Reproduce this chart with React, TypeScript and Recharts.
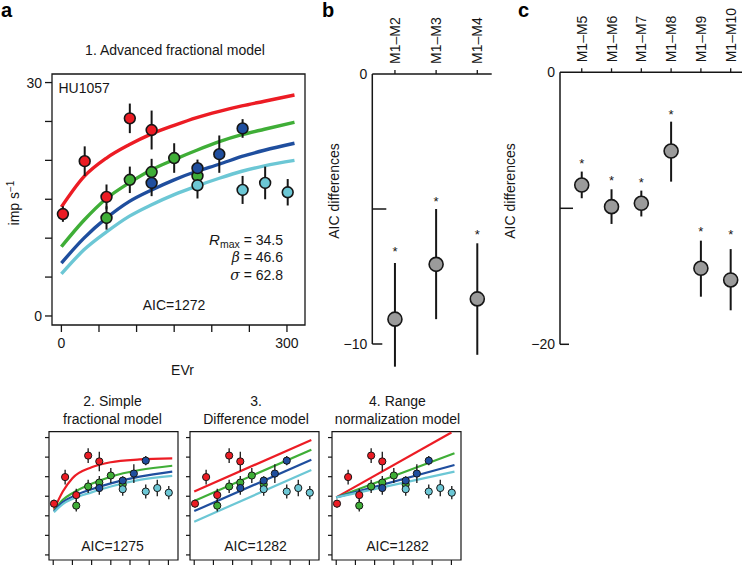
import React from 'react';
import {
  ComposedChart,
  Scatter,
  Line,
  XAxis,
  YAxis,
  ErrorBar,
  ReferenceLine,
  ReferenceArea,
} from 'recharts';

const FONT = '"Liberation Sans", Arial, Helvetica, sans-serif';
const W = 742;
const H = 565;
const INK = '#161616';

// ---------- colours ----------
const RED = '#ec1c24';
const GREEN = '#3fae37';
const BLUE = '#1f4e9e';
const CYAN = '#6cc7d5';
const GREY = '#9b9b9b';

// ---------- panel a: data (EVr, imp/s, s.e.m.) ----------
const redX = [2, 31, 60, 91, 120];
const redY = [13.1, 19.9, 15.3, 25.4, 23.9];
const redE = [1.0, 1.9, 1.6, 1.9, 2.5];

const greenX = [60, 91, 120, 150, 181];
const greenY = [12.6, 17.5, 18.5, 20.3, 18.0];
const greenE = [1.5, 1.7, 1.7, 1.9, 1.2];

const blueX = [120, 181, 210, 241];
const blueY = [17.1, 19.0, 20.8, 24.1];
const blueE = [1.7, 1.1, 2.4, 1.2];

const cyanX = [181, 241, 271, 301];
const cyanY = [16.8, 16.2, 17.1, 15.9];
const cyanE = [1.7, 1.8, 2.1, 1.7];

// model 1 (advanced fractional) fitted curves
const fit1X = [0, 30, 60, 90, 120, 150, 180, 210, 240, 270, 310];
const fit1Red = [14.0, 17.9, 20.3, 22.0, 23.4, 24.5, 25.5, 26.3, 27.0, 27.6, 28.4];
const fit1Green = [8.9, 12.3, 15.1, 17.1, 18.8, 20.1, 21.3, 22.4, 23.3, 24.0, 24.9];
const fit1Blue = [6.8, 10.0, 12.6, 14.7, 16.2, 17.5, 18.6, 19.5, 20.5, 21.3, 22.2];
const fit1Cyan = [5.4, 8.5, 10.8, 12.8, 14.3, 15.6, 16.7, 17.7, 18.6, 19.3, 20.0];

// model 2 (simple fractional)
const fit2X = [2, 25, 50, 100, 150, 225, 310];
const fit2Red = [11.6, 16.2, 19.6, 22.4, 23.7, 24.4, 24.7];
const fit2Green = [11.3, 14.1, 15.8, 18.2, 20.0, 21.7, 22.8];
const fit2Blue = [11.1, 13.5, 14.9, 16.8, 18.3, 20.0, 21.3];
const fit2Cyan = [10.9, 13.0, 14.3, 16.0, 17.5, 19.2, 20.2];

// model 3 (difference)
const fit3X = [0, 305];
const fit3Red = [16.2, 29.4];
const fit3Green = [13.8, 26.9];
const fit3Blue = [11.2, 24.3];
const fit3Cyan = [8.5, 21.7];

// model 4 (range normalization)
const fit4X = [0, 300];
const fit4Red = [14.7, 31.3];
const fit4X2 = [0, 308];
const fit4Green = [14.7, 26.0];
const fit4Blue = [14.7, 23.0];
const fit4Cyan = [14.7, 21.3];

const evTicks = [0, 50, 100, 150, 200, 250, 300];
const rateTicks = [0, 5, 10, 15, 20, 25, 30];

// ---------- panel b ----------
const bCats = ['M1–M2', 'M1–M3', 'M1–M4'];
const bMean = [-9.08, -7.05, -8.33];
const bLow = [-10.84, -9.08, -10.4];
const bHigh = [-7.0, -5.0, -6.27];
const bStar = [-6.46, -4.6, -5.84];
const bTicks = [0, -5, -10];

// ---------- panel c ----------
const cCats = ['M1–M5', 'M1–M6', 'M1–M7', 'M1–M8', 'M1–M9', 'M1–M10'];
const cMean = [-8.29, -9.88, -9.63, -5.79, -14.41, -15.27];
const cLow = [-9.26, -11.15, -10.6, -8.04, -16.5, -17.5];
const cHigh = [-7.3, -8.6, -8.7, -3.63, -12.38, -13.0];
const cStar = [-6.5, -7.72, -7.85, -2.9, -11.47, -11.72];
const cTicks = [0, -10, -20];

// ---------- helpers ----------
const pts = (xs: number[], ys: number[], es: number[]) =>
  xs.map((x, i) => ({ x, y: ys[i], e: es[i] }));
const curve = (xs: number[], ys: number[]) => xs.map((x, i) => ({ x, y: ys[i] }));
const minus = (v: number) => (v < 0 ? '\u2212' + Math.abs(v) : String(v));

const dataSeries = [
  { color: RED, data: pts(redX, redY, redE) },
  { color: GREEN, data: pts(greenX, greenY, greenE) },
  { color: BLUE, data: pts(blueX, blueY, blueE) },
  { color: CYAN, data: pts(cyanX, cyanY, cyanE) },
];

const layer: React.CSSProperties = { position: 'absolute', left: 0, top: 0 };

// ---------- main panel a ----------
const A_XDOM: [number, number] = [-12.5, 324];
const A_YDOM: [number, number] = [-1.16, 31.1];
const AX_H = 30;
const AY_W = 40;

function MainPanel() {
  const fits = [
    { c: RED, d: curve(fit1X, fit1Red) },
    { c: GREEN, d: curve(fit1X, fit1Green) },
    { c: BLUE, d: curve(fit1X, fit1Blue) },
    { c: CYAN, d: curve(fit1X, fit1Cyan) },
  ];
  return (
    <div style={layer}>
      <ComposedChart
        width={W}
        height={H}
        margin={{ top: 74, left: 52 - AY_W, right: W - 305, bottom: H - 325 - AX_H }}
      >
        <XAxis
          type="number"
          dataKey="x"
          domain={A_XDOM}
          ticks={evTicks}
          interval={0}
          tickFormatter={(v: number) => (v === 0 || v === 300 ? String(v) : '')}
          axisLine={false}
          tickLine={{ stroke: INK, strokeWidth: 1.3 }}
          tickSize={7}
          tickMargin={6}
          height={AX_H}
          tick={{ fontSize: 14, fill: INK, fontFamily: FONT }}
        />
        <YAxis
          type="number"
          dataKey="y"
          domain={A_YDOM}
          ticks={rateTicks}
          interval={0}
          tickFormatter={(v: number) => (v === 0 || v === 30 ? String(v) : '')}
          axisLine={false}
          tickLine={{ stroke: INK, strokeWidth: 1.3 }}
          tickSize={7}
          tickMargin={3}
          width={AY_W}
          tick={{ fontSize: 14, fill: INK, fontFamily: FONT }}
        />
        <ReferenceArea
          x1={A_XDOM[0]}
          x2={A_XDOM[1]}
          y1={A_YDOM[0]}
          y2={A_YDOM[1]}
          fill="none"
          fillOpacity={0}
          stroke={INK}
          strokeWidth={1.3}
          ifOverflow="visible"
        />
        {fits.map((f, i) => (
          <Line
            key={'f' + i}
            data={f.d}
            dataKey="y"
            type="monotone"
            stroke={f.c}
            strokeWidth={3.4}
            dot={false}
            activeDot={false}
            isAnimationActive={false}
          />
        ))}
        {dataSeries.map((s, i) => (
          <Scatter
            key={'s' + i}
            data={s.data}
            isAnimationActive={false}
            shape={(p: any) => (
              <circle cx={p.cx} cy={p.cy} r={5.4} fill={s.color} stroke={INK} strokeWidth={1.6} />
            )}
          >
            <ErrorBar dataKey="e" direction="y" width={0} stroke={INK} strokeWidth={2} />
          </Scatter>
        ))}
      </ComposedChart>
    </div>
  );
}

// ---------- small panels ----------
const S_XDOM: [number, number] = [-11, 325];
const S_YDOM: [number, number] = [-1.3, 31.5];
const S_TOP = 431.7;
const S_BOTTOM = 560;
const S_W = 129;
const SX_H = 5;
const SY_W = 10;

function SmallPanel({ left, fits }: { left: number; fits: { c: string; d: { x: number; y: number }[]; t: any }[] }) {
  return (
    <div style={layer}>
      <ComposedChart
        width={W}
        height={H}
        margin={{ top: S_TOP, left: left - SY_W, right: W - (left + S_W), bottom: H - S_BOTTOM - SX_H }}
      >
        <XAxis
          type="number"
          dataKey="x"
          domain={S_XDOM}
          ticks={evTicks}
          interval={0}
          tickFormatter={() => ''}
          axisLine={false}
          tickLine={{ stroke: INK, strokeWidth: 1.2 }}
          tickSize={6}
          height={SX_H}
        />
        <YAxis
          type="number"
          dataKey="y"
          domain={S_YDOM}
          ticks={rateTicks}
          interval={0}
          tickFormatter={() => ''}
          axisLine={false}
          tickLine={{ stroke: INK, strokeWidth: 1.2 }}
          tickSize={4}
          width={SY_W}
        />
        <ReferenceArea
          x1={S_XDOM[0]}
          x2={S_XDOM[1]}
          y1={S_YDOM[0]}
          y2={S_YDOM[1]}
          fill="none"
          fillOpacity={0}
          stroke={INK}
          strokeWidth={1.2}
          ifOverflow="visible"
        />
        {fits.map((f, i) => (
          <Line
            key={'f' + i}
            data={f.d}
            dataKey="y"
            type={f.t}
            stroke={f.c}
            strokeWidth={2.2}
            dot={false}
            activeDot={false}
            isAnimationActive={false}
          />
        ))}
        {dataSeries.map((s, i) => (
          <Scatter
            key={'s' + i}
            data={s.data}
            isAnimationActive={false}
            shape={(p: any) => (
              <circle cx={p.cx} cy={p.cy} r={3.6} fill={s.color} stroke={INK} strokeWidth={1} />
            )}
          >
            <ErrorBar dataKey="e" direction="y" width={0} stroke={INK} strokeWidth={1.3} />
          </Scatter>
        ))}
      </ComposedChart>
    </div>
  );
}

// ---------- AIC difference panels ----------
function makeRotTick(labels: string[]) {
  return (props: any) => {
    const { x, y, payload } = props;
    const lab = labels[Math.round(payload.value) - 1] ?? '';
    return (
      <text
        x={x}
        y={y}
        transform={`rotate(-90 ${x} ${y})`}
        textAnchor="start"
        dominantBaseline="central"
        fontSize={14}
        fontFamily={FONT}
        fill={INK}
      >
        {lab}
      </text>
    );
  };
}

const DX_H = 60;
const DY_W = 30;

function DiffPanel({
  top,
  left,
  right,
  pxPerY,
  xDom,
  yDom,
  cats,
  mean,
  low,
  high,
  star,
  yTicks,
  axisEnd,
  innerTicks,
}: {
  top: number;
  left: number;
  right: number;
  pxPerY: number;
  xDom: [number, number];
  yDom: [number, number];
  cats: string[];
  mean: number[];
  low: number[];
  high: number[];
  star: number[];
  yTicks: number[];
  axisEnd: number;
  innerTicks: { v: number; len: number }[];
}) {
  const pxPerX = (right - left) / (xDom[1] - xDom[0]);
  const data = mean.map((m, i) => ({ x: i + 1, y: m, e: [m - low[i], high[i] - m] }));
  const stars = star.map((s, i) => ({ x: i + 1, y: s }));
  const ticksX = cats.map((_, i) => i + 1);
  const bottom = top + (yDom[1] - yDom[0]) * pxPerY;
  return (
    <div style={layer}>
      <ComposedChart
        width={W}
        height={H}
        margin={{
          top: top - DX_H,
          left: left - DY_W,
          right: W - right,
          bottom: H - bottom,
        }}
      >
        <XAxis
          type="number"
          dataKey="x"
          orientation="top"
          domain={xDom}
          ticks={ticksX}
          interval={0}
          axisLine={{ stroke: INK, strokeWidth: 1.5 }}
          tickLine={{ stroke: INK, strokeWidth: 1.3 }}
          tickSize={4}
          tickMargin={6}
          height={DX_H}
          tick={makeRotTick(cats)}
        />
        <YAxis
          type="number"
          dataKey="y"
          domain={yDom}
          ticks={yTicks}
          interval={0}
          tickFormatter={(v: number) => (v === 0 || v === axisEnd ? minus(v) : '')}
          axisLine={false}
          tickLine={false}
          tickSize={0}
          tickMargin={5}
          width={DY_W}
          tick={{ fontSize: 14, fill: INK, fontFamily: FONT }}
        />
        <ReferenceLine
          segment={[
            { x: xDom[0], y: 0 },
            { x: xDom[0], y: axisEnd },
          ]}
          stroke={INK}
          strokeWidth={1.5}
          ifOverflow="visible"
        />
        {innerTicks.map((t, i) => (
          <ReferenceLine
            key={'it' + i}
            segment={[
              { x: xDom[0], y: t.v },
              { x: xDom[0] + t.len / pxPerX, y: t.v },
            ]}
            stroke={INK}
            strokeWidth={1.5}
            ifOverflow="visible"
          />
        ))}
        <Scatter
          data={data}
          isAnimationActive={false}
          shape={(p: any) => (
            <circle cx={p.cx} cy={p.cy} r={7} fill={GREY} stroke={INK} strokeWidth={1.6} />
          )}
        >
          <ErrorBar dataKey="e" direction="y" width={0} stroke={INK} strokeWidth={2} />
        </Scatter>
        <Scatter
          data={stars}
          isAnimationActive={false}
          shape={(p: any) => (
            <text x={p.cx} y={p.cy + 7.5} textAnchor="middle" fontSize={13} fontFamily={FONT} fill={INK}>
              *
            </text>
          )}
        />
      </ComposedChart>
    </div>
  );
}

// ---------- text overlay ----------
function TextLayer() {
  const t = { fontFamily: FONT, fontSize: 14, fill: INK } as const;
  return (
    <svg width={W} height={H} style={{ ...layer, pointerEvents: 'none' }}>
      <text x={1} y={16.5} fontFamily={FONT} fontSize={20} fontWeight="bold" fill="#000">a</text>
      <text x={322} y={16.5} fontFamily={FONT} fontSize={20} fontWeight="bold" fill="#000">b</text>
      <text x={518} y={16.5} fontFamily={FONT} fontSize={20} fontWeight="bold" fill="#000">c</text>

      <text {...t} x={175} y={55} textAnchor="middle">1. Advanced fractional model</text>
      <text {...t} x={58.5} y={93.3}>HU1057</text>
      <text {...t} x={283} y={245} textAnchor="end">
        <tspan fontStyle="italic" fontSize={15}>R</tspan>
        <tspan fontSize={10.5} dy={3}>max</tspan>
        <tspan dy={-3}> = 34.5</tspan>
      </text>
      <text {...t} x={283} y={262.3} textAnchor="end">
        <tspan fontStyle="italic" fontFamily='"DejaVu Serif", "Liberation Serif", serif' fontSize={14}>β</tspan>
        <tspan> = 46.6</tspan>
      </text>
      <text {...t} x={283} y={280} textAnchor="end">
        <tspan fontStyle="italic" fontFamily='"DejaVu Serif", "Liberation Serif", serif' fontSize={14}>σ</tspan>
        <tspan> = 62.8</tspan>
      </text>
      <text {...t} x={174} y={310} textAnchor="middle">AIC=1272</text>
      <text {...t} x={182.5} y={375} textAnchor="middle">EVr</text>
      <text {...t} x={19} y={203} textAnchor="middle" transform="rotate(-90 19 203)">
        imp s<tspan fontSize={10} dy={-5}>−1</tspan>
      </text>

      <text {...t} x={339} y={191} textAnchor="middle" transform="rotate(-90 339 191)">AIC differences</text>
      <text {...t} x={515} y={191} textAnchor="middle" transform="rotate(-90 515 191)">AIC differences</text>

      <text {...t} x={112.5} y={406} textAnchor="middle">2. Simple</text>
      <text {...t} x={112.5} y={424} textAnchor="middle">fractional model</text>
      <text {...t} x={256} y={406} textAnchor="middle">3.</text>
      <text {...t} x={256} y={424} textAnchor="middle">Difference model</text>
      <text {...t} x={397.5} y={406} textAnchor="middle">4. Range</text>
      <text {...t} x={397.5} y={424} textAnchor="middle">normalization model</text>

      <text {...t} x={112.5} y={550.5} textAnchor="middle">AIC=1275</text>
      <text {...t} x={255.5} y={550.5} textAnchor="middle">AIC=1282</text>
      <text {...t} x={397.5} y={550.5} textAnchor="middle">AIC=1282</text>
    </svg>
  );
}

export default function App() {
  const fits2 = [
    { c: RED, d: curve(fit2X, fit2Red), t: 'monotone' },
    { c: GREEN, d: curve(fit2X, fit2Green), t: 'monotone' },
    { c: BLUE, d: curve(fit2X, fit2Blue), t: 'monotone' },
    { c: CYAN, d: curve(fit2X, fit2Cyan), t: 'monotone' },
  ];
  const fits3 = [
    { c: RED, d: curve(fit3X, fit3Red), t: 'linear' },
    { c: GREEN, d: curve(fit3X, fit3Green), t: 'linear' },
    { c: BLUE, d: curve(fit3X, fit3Blue), t: 'linear' },
    { c: CYAN, d: curve(fit3X, fit3Cyan), t: 'linear' },
  ];
  const fits4 = [
    { c: RED, d: curve(fit4X, fit4Red), t: 'linear' },
    { c: GREEN, d: curve(fit4X2, fit4Green), t: 'linear' },
    { c: BLUE, d: curve(fit4X2, fit4Blue), t: 'linear' },
    { c: CYAN, d: curve(fit4X2, fit4Cyan), t: 'linear' },
  ];
  return (
    <div
      style={{
        position: 'absolute',
        left: 0,
        top: 0,
        width: W,
        height: H,
        background: '#fff',
        overflow: 'hidden',
      }}
    >
      <MainPanel />
      <SmallPanel left={49} fits={fits2} />
      <SmallPanel left={190} fits={fits3} />
      <SmallPanel left={332} fits={fits4} />
      <DiffPanel
        top={74}
        left={372.3}
        right={491.7}
        pxPerY={27}
        xDom={[0.45, 3.35]}
        yDom={[-11.4, 0]}
        cats={bCats}
        mean={bMean}
        low={bLow}
        high={bHigh}
        star={bStar}
        yTicks={bTicks}
        axisEnd={-10}
        innerTicks={[
          { v: -5, len: 14 },
          { v: -10, len: 10 },
        ]}
      />
      <DiffPanel
        top={72.3}
        left={560}
        right={742}
        pxPerY={13.6}
        xDom={[0.27, 6.38]}
        yDom={[-20.5, 0]}
        cats={cCats}
        mean={cMean}
        low={cLow}
        high={cHigh}
        star={cStar}
        yTicks={cTicks}
        axisEnd={-20}
        innerTicks={[
          { v: -10, len: 13 },
          { v: -20, len: 9 },
        ]}
      />
      <TextLayer />
    </div>
  );
}
